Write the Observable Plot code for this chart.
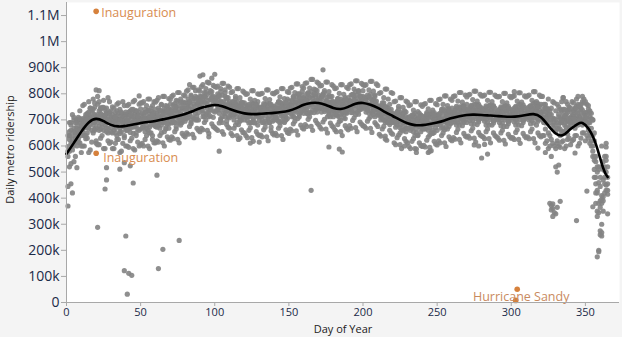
<!DOCTYPE html>
<html>
<head>
<meta charset="utf-8">
<script src="https://cdn.jsdelivr.net/npm/d3@7"></script>
<script src="https://cdn.jsdelivr.net/npm/@observablehq/plot@0.6"></script>
<style>
  html, body { margin: 0; padding: 0; background: #f4f4f4; }
  #chart { width: 622px; height: 337px; }
</style>
</head>
<body>
<div id="chart"></div>
<script>
// Daily ridership (thousands) for day 1..365, several years
const yearA = [
598,640,455,612,655,630,668,645,690,672,
662,700,688,725,674,712,735,690,748,705,
720,676,742,695,660,718,702,668,730,688,
650,712,695,640,725,670,705,688,632,718,
700,665,735,690,648,722,676,708,660,742,
688,720,655,705,738,672,698,640,728,710,
690,745,668,712,730,655,702,752,685,720,
740,698,762,675,728,705,780,690,745,720,
755,710,768,690,740,782,725,760,700,790,
770,735,805,720,760,842,748,785,710,775,
760,800,725,772,690,748,815,735,762,708,
745,770,700,738,755,682,728,768,712,740,
735,698,752,715,690,742,725,760,680,730,
712,748,690,738,765,705,728,672,750,720,
742,708,770,725,695,755,738,712,780,730,
760,725,790,742,768,705,785,752,810,770,
782,740,805,758,728,792,770,815,745,780,
762,730,795,748,775,712,768,740,790,735,
752,720,770,735,698,760,742,785,725,755,
775,740,798,755,780,728,810,765,742,790,
768,730,785,752,712,775,745,795,728,752,
738,700,755,722,690,748,715,682,740,705,
710,672,728,695,650,715,688,735,668,700,
695,660,712,678,640,702,685,725,655,690,
700,665,718,688,642,710,680,728,670,695,
715,680,735,700,662,725,698,742,685,710,
728,692,745,712,680,738,715,755,700,725,
735,698,752,718,685,742,722,760,705,730,
728,695,748,715,680,738,718,755,700,725,
725,690,745,710,675,735,712,752,698,720,
730,692,748,715,680,740,718,758,702,728,
735,700,752,720,688,745,725,762,705,730,
705,690,665,712,650,640,700,360,680,655,
620,665,640,690,655,700,672,645,690,710,
700,720,668,735,690,712,745,680,725,700,
690,660,710,640,600,560,455,350,520,480,
410,540,505,450,520];
const yearB = [
560,625,680,420,605,650,690,628,665,700,
685,640,712,670,730,695,660,722,690,815,
690,735,665,710,748,680,725,650,700,712,
690,660,728,705,678,740,655,712,695,668,
720,690,652,712,740,675,705,690,728,665,
712,672,740,695,660,725,705,755,680,702,
725,680,712,758,690,735,670,718,742,695,
705,758,690,735,772,712,688,745,702,765,
720,780,742,700,775,738,812,715,768,745,
790,725,768,820,745,712,778,860,735,765,
735,788,748,820,712,770,740,695,785,752,
720,758,735,782,690,750,712,745,765,700,
750,712,735,690,765,705,742,718,770,698,
745,700,728,760,688,742,715,755,695,738,
718,760,695,740,752,712,765,700,745,758,
738,775,715,760,730,800,748,772,735,785,
755,800,772,730,808,765,748,790,812,760,
775,745,800,732,770,788,725,765,750,712,
735,770,715,752,780,728,760,705,748,772,
750,795,765,735,808,770,745,785,758,812,
745,780,762,725,798,755,735,770,742,718,
720,755,705,742,728,695,735,712,690,725,
695,718,680,705,730,662,712,690,655,705,
670,705,690,655,712,680,640,700,718,665,
680,712,695,660,722,690,708,652,700,715,
692,725,705,670,735,712,688,728,700,745,
705,738,720,690,750,718,735,695,742,760,
712,745,728,698,760,722,740,705,750,718,
705,742,725,690,755,712,738,698,745,720,
702,740,722,688,752,710,735,695,742,715,
708,745,728,692,758,715,738,700,748,722,
712,750,730,698,762,720,742,705,752,725,
730,712,745,698,720,735,372,680,705,340,
668,712,690,735,705,680,722,695,740,675,
715,690,742,705,760,712,695,738,700,728,
705,670,728,620,580,510,380,420,345,260,
395,470,560,430,455];
const yearC = [
370,690,640,598,668,615,700,650,612,680,
650,695,628,705,668,745,700,680,720,670,
705,660,720,685,702,740,670,712,690,655,
705,680,650,715,690,655,725,675,710,692,
660,708,685,725,672,698,650,720,690,705,
670,700,728,678,712,650,735,688,715,675,
700,720,690,680,712,745,700,685,725,760,
688,725,712,750,695,740,722,705,768,738,
705,750,725,795,712,760,738,700,780,752,
740,772,712,785,798,730,812,755,790,875,
785,740,770,705,795,760,725,780,750,728,
760,715,748,725,770,740,700,755,730,718,
712,745,688,728,752,700,735,745,712,750,
728,690,755,715,742,700,762,730,710,752,
732,700,745,768,715,735,690,752,728,772,
745,712,768,735,790,750,722,770,795,742,
768,725,790,752,430,782,800,738,775,745,
745,790,762,805,738,752,792,712,770,755,
760,730,782,712,745,770,722,750,730,785,
742,772,728,790,752,765,735,792,775,748,
785,758,742,790,735,765,780,712,760,738,
745,712,738,765,700,728,745,705,722,690,
722,700,695,742,680,708,725,665,712,690,
712,688,668,720,695,650,708,688,672,715,
695,672,728,705,680,650,725,700,688,660,
710,698,668,722,705,690,742,675,718,700,
725,710,680,740,722,705,752,690,728,712,
728,712,685,745,725,705,758,692,735,745,
722,708,680,740,720,702,752,688,730,712,
718,705,678,738,718,700,748,685,728,710,
720,706,680,742,722,702,752,690,732,715,
725,710,685,745,728,708,758,695,738,712,
700,742,688,725,712,380,355,705,690,520,
500,680,705,655,720,690,712,738,670,705,
690,735,705,718,680,750,728,700,765,712,
728,690,650,705,640,545,480,330,200,275,
380,510,420,500,415];
const yearD = [
445,580,660,625,700,640,675,710,660,640,
705,670,700,650,720,685,705,740,665,710,
712,700,745,672,715,690,728,698,725,670,
720,695,668,735,700,648,715,690,722,660,
695,730,668,705,690,715,735,665,702,688,
725,690,705,668,735,712,680,725,695,740,
672,705,735,695,720,690,728,705,668,738,
722,690,738,715,755,688,730,765,712,695,
742,765,720,755,735,705,752,785,728,772,
755,712,790,765,728,775,740,808,768,730,
770,752,795,738,765,725,790,755,712,770,
735,748,720,762,712,735,755,700,742,765,
728,755,712,745,730,762,690,720,748,715,
740,718,750,695,728,755,690,742,725,700,
710,745,728,690,762,725,718,740,705,748,
725,755,740,708,772,740,762,728,758,725,
742,775,722,785,760,738,770,755,730,795,
750,782,892,760,742,770,735,758,728,770,
722,748,738,765,722,745,775,730,768,740,
768,728,752,778,720,795,760,740,782,770,
752,772,738,760,782,728,755,740,772,745,
730,742,722,700,752,715,690,735,705,720,
705,688,712,725,670,698,705,678,730,668,
688,712,675,695,725,665,700,675,690,700,
665,690,705,715,670,728,660,690,718,682,
722,705,688,742,695,672,718,705,730,690,
712,728,698,722,745,695,710,740,715,690,
742,725,705,735,712,760,728,700,722,712,
738,722,702,732,710,758,725,698,720,710,
735,720,700,730,708,755,722,695,718,708,
738,722,700,733,712,760,728,698,722,712,
742,725,705,738,715,765,732,702,728,760,
712,690,730,705,740,690,720,378,665,700,
690,722,665,700,740,715,660,728,705,690,
728,705,690,752,725,700,742,770,715,692,
715,742,690,668,700,620,540,520,460,365,
300,405,520,545,480];
const yearE = [
640,520,690,585,710,560,700,615,735,600,
755,600,720,630,770,585,740,650,765,610,
760,605,725,640,775,590,745,620,770,615,
750,590,710,625,765,575,730,610,755,600,
755,595,720,630,770,585,735,615,760,605,
765,600,728,640,780,590,745,625,770,612,
775,615,738,650,790,600,755,635,782,622,
790,628,750,665,805,612,768,648,795,635,
810,645,770,685,825,632,790,668,815,655,
828,662,788,700,845,648,805,685,832,670,
825,660,790,698,840,645,805,682,830,668,
805,640,768,680,820,625,785,662,810,650,
798,632,760,670,812,618,775,655,800,640,
800,635,762,672,815,620,778,658,802,642,
805,640,768,678,820,625,782,662,808,648,
822,658,785,695,838,642,800,680,828,665,
840,675,800,712,855,660,818,698,845,682,
830,665,792,702,845,650,808,688,835,672,
820,655,782,694,835,640,798,678,825,662,
835,668,796,708,850,655,812,692,840,678,
832,668,795,705,848,652,810,690,838,675,
802,638,765,675,818,622,780,660,805,645,
770,605,732,642,785,590,748,628,772,612,
755,590,718,628,770,575,732,612,758,598,
760,596,722,634,775,582,738,618,762,604,
778,612,740,650,792,598,755,635,780,620,
790,626,752,664,805,612,768,648,795,634,
795,630,756,668,810,615,772,652,798,638,
792,628,754,665,806,612,770,650,795,635,
788,622,750,660,802,608,765,645,790,630,
790,625,752,662,804,610,768,648,792,632,
792,628,755,665,808,612,770,650,795,635,
790,640,760,620,780,600,745,610,765,590,
760,600,740,615,785,590,770,625,750,605,
770,625,745,640,790,610,760,650,780,620,
760,630,735,600,700,480,560,430,510,390,
600,350,480,560,430];
const yearF = [
580,655,610,720,540,690,600,660,705,575,
600,760,640,705,575,745,615,780,660,620,
605,770,630,748,590,720,655,785,610,735,
590,745,610,760,625,700,580,770,640,730,
600,760,620,740,590,775,640,715,600,765,
610,770,625,755,600,780,650,720,612,768,
620,785,640,760,612,790,665,735,625,778,
635,795,655,775,625,805,680,750,640,792,
650,815,675,790,645,825,700,770,660,810,
668,835,690,805,660,842,715,788,675,828,
665,830,688,808,655,840,712,785,672,825,
648,808,668,790,640,820,695,765,652,805,
640,800,660,780,632,812,688,758,645,798,
642,802,662,782,635,815,690,760,648,800,
648,808,668,788,640,820,695,765,652,805,
665,825,685,805,658,838,712,782,670,822,
682,842,702,822,675,855,728,798,688,840,
672,832,692,812,665,845,718,788,678,830,
662,822,682,802,655,835,708,778,668,820,
678,838,698,818,670,850,722,792,684,835,
675,835,695,815,668,848,720,790,682,832,
645,805,665,785,638,818,690,760,650,802,
612,772,632,752,605,785,658,728,618,768,
598,758,618,738,590,770,642,712,602,752,
602,762,622,742,595,775,648,718,608,758,
620,780,640,760,612,792,665,735,625,775,
632,792,652,772,625,805,678,748,638,788,
638,798,658,778,630,810,682,752,642,792,
635,795,655,775,628,806,680,750,640,790,
630,790,650,770,622,802,675,745,635,785,
632,792,652,772,625,804,678,748,638,788,
635,795,655,775,628,808,680,750,640,790,
640,760,610,745,590,720,625,770,600,735,
610,750,595,770,620,740,600,760,630,745,
620,765,640,780,600,755,630,790,650,770,
640,755,610,725,560,650,420,500,380,445,
520,390,455,610,340];
// Unusual days (day of year, thousands)
const outlierDay = [3,7,21,26,27,27,36,39,39,40,41,42,43,44,45,61,62,65,76,21,22,49,83,90,92,103,96,117,124,130,177,184,186,215,228,236,244,245,275,278,280,282,284,302,318,323,327,332,335,343,344,351,355,358,359,361,361,364,329,331,333,328];
const outlierVal = [532,517,288,435,470,517,511,122,536,255,32,112,524,104,458,488,130,204,238,790,812,792,835,868,873,580,635,631,611,615,596,588,577,627,600,588,575,580,604,600,554,606,569,808,592,575,560,527,785,573,314,427,367,175,195,255,268,596,345,365,388,330];
// Smoothed trend (thousands)
const trendDay = [0,5,10,15,20,25,30,35,40,45,50,55,60,65,70,75,80,85,90,95,100,105,110,115,120,125,130,135,140,145,150,155,160,165,170,175,180,185,190,195,200,205,210,215,220,225,230,235,240,245,250,255,260,265,270,275,280,285,290,295,300,305,310,315,320,325,330,335,340,345,348,352,357,362,365];
const trendVal = [570,612,655,690,704,695,681,675,677,682,688,692,696,702,708,715,723,733,745,752,757,752,742,732,725,722,723,725,727,730,735,745,758,765,765,757,746,742,750,762,765,758,746,730,715,700,687,680,680,684,690,698,707,714,719,720,719,717,715,713,712,714,719,722,710,678,648,642,665,685,688,667,608,515,481];
// Annotated events
const eventDay = [20,20,303,304];
const eventVal = [1116,572,8,51];
const labelDay = [20,20,304];
const labelVal = [1116,572,51];
const labelText = ["Inauguration","Inauguration","Hurricane Sandy"];
const xTicks = [0,50,100,150,200,250,300,350];
const yTicks = [0,100,200,300,400,500,600,700,800,900,1000,1100];
const yTickLabels = ["0","100k","200k","300k","400k","500k","600k","700k","800k","900k","1M","1.1M"];

const pts = [];
for (const yr of [yearA, yearB, yearC, yearD, yearE, yearF]) yr.forEach((v, i) => pts.push({day: i + 1, val: v * 1000}));
outlierDay.forEach((d, i) => pts.push({day: d, val: outlierVal[i] * 1000}));
const trend = trendDay.map((d, i) => ({day: d, val: trendVal[i] * 1000}));
const events = eventDay.map((d, i) => ({day: d, val: eventVal[i] * 1000}));
const labels = labelDay.map((d, i) => ({day: d, val: labelVal[i] * 1000, text: labelText[i]}));

const font = "'Open Sans', 'Noto Sans', sans-serif";
const axisColor = "#a8a8a8";
const tickText = "#1b2a48";

const chart = Plot.plot({
  width: 622, height: 337,
  marginLeft: 66, marginRight: 3, marginTop: 2, marginBottom: 35,
  style: {background: "transparent", fontFamily: font, overflow: "visible"},
  x: {domain: [0, 373]},
  y: {domain: [0, 1150000]},
  marks: [
    Plot.frame({fill: "white", stroke: null}),
    Plot.dot(pts, {x: "day", y: "val", r: 2.6, fill: "#838383", fillOpacity: 0.9, stroke: null}),
    Plot.line(trend, {x: "day", y: "val", curve: "natural", stroke: "black", strokeWidth: 2.6}),
    Plot.dot(events, {x: "day", y: "val", r: 2.8, fill: "#d6813c", stroke: null}),
    Plot.text(labels.slice(0, 1), {x: "day", y: "val", text: "text", textAnchor: "start", dx: 5, dy: 2, fill: "#d88c50", fontSize: 12.5}),
    Plot.text(labels.slice(1, 2), {x: "day", y: "val", text: "text", textAnchor: "start", dx: 7, dy: 5, fill: "#d88c50", fontSize: 12.5}),
    Plot.text(labels.slice(2, 3), {x: "day", y: "val", text: "text", textAnchor: "middle", dx: 4, dy: 8, fill: "#c98a5e", fontSize: 12.5}),
    Plot.ruleY([0], {stroke: axisColor}),
    Plot.ruleX([0], {stroke: axisColor}),
    Plot.axisY({ticks: yTicks.map(v => v * 1000), tickFormat: (d) => yTickLabels[yTicks.indexOf(d / 1000)], tickSize: 5, tickPadding: 2, fontSize: 14, stroke: axisColor, color: tickText, label: null}),
    Plot.axisX({ticks: xTicks, tickFormat: d => String(d), tickSize: 4, tickPadding: 2, fontSize: 11, stroke: axisColor, color: tickText, label: null}),
    Plot.text(["Daily metro ridership"], {frameAnchor: "left", textAnchor: "middle", lineAnchor: "middle", rotate: -90, dx: -56, dy: -3, fontSize: 11, fill: "#222"}),
    Plot.text(["Day of Year"], {frameAnchor: "bottom", textAnchor: "middle", lineAnchor: "middle", dy: 27, fontSize: 11, fill: "#222"})
  ]
});
document.getElementById("chart").appendChild(chart);
</script>
</body>
</html>
